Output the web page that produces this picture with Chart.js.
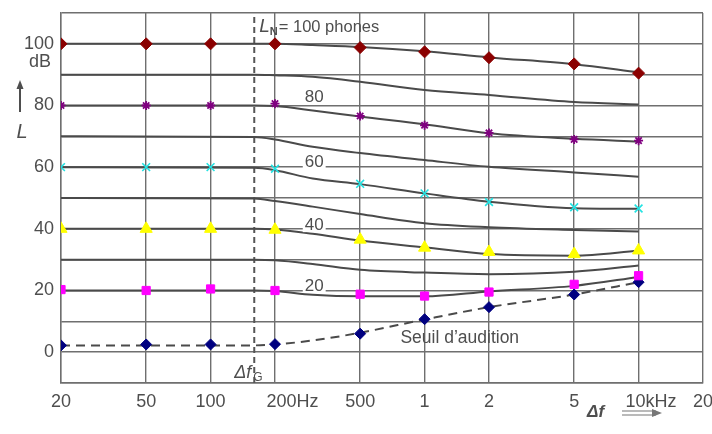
<!DOCTYPE html>
<html>
<head>
<meta charset="utf-8">
<script src="https://cdn.jsdelivr.net/npm/chart.js@4.4.0/dist/chart.umd.min.js"></script>
<style>
html,body{margin:0;padding:0;background:#ffffff;}
#wrap{width:712px;height:434px;}
</style>
</head>
<body>
<div id="wrap"><canvas id="c" width="712" height="434"></canvas></div>
<script>
// ---- tick labels ----
const xTickValues = [20, 50, 100, 200, 500, 1000, 2000, 5000, 10000, 20000];
const xTickLabels = ['20', '50', '100', '200Hz', '500', '1', '2', '5', '10kHz', '20'];
const yLabelValues = [0, 20, 40, 60, 80, 100];

// ---- marker series (overlaid points) ----
const markerFreqs = [20, 50, 100, 200, 500, 1000, 2000, 5000, 10000];
const marker100 = [100, 100, 100, 100, 98.8, 97.4, 95.5, 93.5, 90.5];
const marker80 = [80, 80, 80, 80.6, 76.6, 73.6, 71.1, 69.0, 68.6];
const marker60 = [60, 60, 60, 59.5, 54.6, 51.5, 48.7, 47.0, 46.6];
const marker40 = [40, 40, 40, 39.7, 36.5, 33.9, 32.5, 31.8, 33.0];
const marker20 = [20.3, 20, 20.5, 20, 18.8, 18.2, 19.5, 22.0, 24.8];
const markerThreshold = [2.2, 2.5, 2.5, 2.6, 6.0, 10.7, 14.6, 18.7, 22.7];

// ---- equal-loudness curves (grey lines) ----
const curveFreqs = [20, 160, 200, 300, 500, 1000, 2000, 5000, 10000];
const curve100 = [100, 100, 100, 99.6, 99.0, 97.6, 95.6, 93.4, 90.7];
const curve90 = [90, 90, 89.8, 89.3, 87.7, 85.0, 83.4, 81.1, 80.3];
const curve80 = [80, 80, 79.8, 78.4, 76.4, 73.9, 71.0, 69.2, 68.3];
const curve70 = [70, 69.8, 69.0, 66.6, 64.6, 62.3, 60.1, 58.3, 56.9];
const curve60 = [60, 59.8, 59.0, 56.3, 54.5, 51.5, 48.8, 46.7, 46.5];
const curve50 = [50, 49.8, 49.0, 47.2, 44.8, 41.8, 40.5, 39.6, 39.1];
const curve40 = [40, 40, 39.8, 38.4, 36.2, 34.0, 31.8, 31.3, 32.9];
const curve30 = [30, 30, 29.8, 28.6, 26.7, 25.8, 25.3, 26.1, 28.1];
const curve20 = [20, 20, 19.8, 18.6, 18.1, 18.1, 19.7, 21.5, 24.4];
const curveThreshold = [2.2, 2.2, 2.5, 3.8, 6.3, 10.6, 14.6, 18.7, 22.7];

// critical bandwidth marker
const criticalBand = 160;

// curve label annotations
const curveLabelTexts = ['80', '60', '40', '20'];
const curveLabelFreq = 305;
const curveLabelDb = [82.5, 61.5, 41.2, 21.5];

const GRID = '#6f6f6f';
const CURVE = '#4a4a4a';
const TEXT = '#4e4e4e';
const FONT = "'Liberation Sans', Arial, sans-serif";

function pts(xs, ys) { return xs.map((x, i) => ({ x: x, y: ys[i] })); }

function markerSet(label, data, style, radius, color, bw) {
  return {
    label: label, data: pts(markerFreqs, data), showLine: false, order: 0,
    pointStyle: style, pointRadius: radius, pointHoverRadius: radius,
    pointBackgroundColor: color, pointBorderColor: color, pointBorderWidth: bw
  };
}
function curveSet(label, data, dash) {
  return {
    label: label, data: pts(curveFreqs, data), order: 2,
    borderColor: CURVE, borderWidth: 2, pointRadius: 0, pointHoverRadius: 0,
    cubicInterpolationMode: 'monotone', borderDash: dash || [], fill: false
  };
}

const datasets = [
  markerSet('100 phon', marker100, 'rectRot', 6, '#8b0000', 1),
  markerSet('80 phon', marker80, 'star', 4.5, '#800080', 1.8),
  markerSet('60 phon', marker60, 'crossRot', 5.5, '#22e3e3', 1.6),
  markerSet('40 phon', marker40, 'triangle', 7, '#ffff00', 1),
  markerSet('20 phon', marker20, 'rect', 5.8, '#ff00ff', 1),
  markerSet('Seuil', markerThreshold, 'rectRot', 5.5, '#000080', 1),
  curveSet('L100', curve100), curveSet('L90', curve90), curveSet('L80', curve80),
  curveSet('L70', curve70), curveSet('L60', curve60), curveSet('L50', curve50),
  curveSet('L40', curve40), curveSet('L30', curve30), curveSet('L20', curve20),
  curveSet('Seuil d\'audition', curveThreshold, [9, 6]),
  {
    label: 'Δf_G', data: [{ x: criticalBand, y: -10 }, { x: criticalBand, y: 110 }], order: 3,
    borderColor: '#555555', borderWidth: 2, borderDash: [6, 4], pointRadius: 0, pointHoverRadius: 0
  }
];

const annot = {
  id: 'annot',
  afterDraw(chart) {
    const { ctx, scales: { x, y } } = chart;
    ctx.save();
    ctx.fillStyle = TEXT;
    ctx.strokeStyle = TEXT;
    ctx.textBaseline = 'middle';

    // curve labels
    ctx.font = '17px ' + FONT;
    ctx.textAlign = 'center';
    curveLabelTexts.forEach((t, i) => {
      const px = x.getPixelForValue(curveLabelFreq);
      const py = y.getPixelForValue(curveLabelDb[i]);
      const w = ctx.measureText(t).width;
      ctx.fillStyle = '#ffffff';
      ctx.fillRect(px - w / 2 - 2, py - 7, w + 4, 14);
      ctx.fillStyle = TEXT;
      ctx.fillText(t, px, py);
    });

    // L_N = 100 phones
    let lx = x.getPixelForValue(criticalBand) + 5;
    const ly = y.getPixelForValue(105.4);
    ctx.textAlign = 'left';
    ctx.font = 'italic 19px ' + FONT;
    ctx.fillText('L', lx, ly);
    lx += ctx.measureText('L').width;
    ctx.font = 'bold 11px ' + FONT;
    ctx.fillText('N', lx, ly + 5);
    lx += ctx.measureText('N').width + 1;
    ctx.font = '16.5px ' + FONT;
    ctx.fillText('= 100 phones', lx, ly);

    // Seuil d'audition
    ctx.font = '17.5px ' + FONT;
    ctx.textAlign = 'center';
    ctx.fillText('Seuil d\u2019audition', x.getPixelForValue(1460), y.getPixelForValue(4.4));

    // Δf_G
    ctx.textAlign = 'left';
    let gx = x.getPixelForValue(criticalBand) - 20;
    const gy = y.getPixelForValue(-6.6);
    ctx.font = 'italic 18px ' + FONT;
    ctx.fillText('\u0394f', gx, gy);
    gx += ctx.measureText('\u0394f').width + 2;
    ctx.font = '12px ' + FONT;
    ctx.fillText('G', gx, gy + 5);

    // dB unit and L axis title
    ctx.font = '18px ' + FONT;
    ctx.textAlign = 'center';
    ctx.fillText('dB', 40, 62);
    ctx.font = 'italic 20px ' + FONT;
    ctx.fillText('L', 22, 132);
    // upward arrow
    ctx.lineWidth = 2;
    ctx.beginPath(); ctx.moveTo(20, 112); ctx.lineTo(20, 87); ctx.stroke();
    ctx.beginPath(); ctx.moveTo(20, 80); ctx.lineTo(16.5, 89); ctx.lineTo(23.5, 89); ctx.closePath(); ctx.fill();

    // Δf arrow under x axis
    ctx.font = 'italic bold 17px ' + FONT;
    ctx.textAlign = 'left';
    ctx.fillText('\u0394f', 587, 412);
    ctx.lineWidth = 1.2;
    ctx.strokeStyle = '#777777';
    ctx.beginPath();
    ctx.moveTo(622, 411); ctx.lineTo(656, 411);
    ctx.moveTo(622, 415); ctx.lineTo(656, 415);
    ctx.stroke();
    ctx.fillStyle = '#777777';
    ctx.beginPath(); ctx.moveTo(662, 413); ctx.lineTo(652, 409); ctx.lineTo(652, 417); ctx.closePath(); ctx.fill();
    ctx.restore();
  }
};

new Chart(document.getElementById('c'), {
  type: 'line',
  data: { datasets: datasets },
  options: {
    responsive: false,
    animation: false,
    devicePixelRatio: 1,
    layout: { padding: { top: 13, right: 9, left: 0, bottom: 0 } },
    plugins: { legend: { display: false }, tooltip: { enabled: false } },
    scales: {
      x: {
        type: 'logarithmic', min: 20, max: 20000,
        afterBuildTicks: (s) => { s.ticks = xTickValues.map(v => ({ value: v })); },
        afterFit: (s) => { s.height = 51; s.paddingLeft = 0; s.paddingRight = 0; s.paddingTop = 0; s.paddingBottom = 0; },
        grid: { color: GRID, lineWidth: 1.4, drawTicks: false },
        border: { display: true, color: GRID, width: 1.4 },
        ticks: {
          autoSkip: false, maxRotation: 0, padding: 8, color: TEXT,
          font: { family: FONT, size: 18 },
          callback: (v, i) => {
            const t = xTickLabels[i];
            if (t === '200Hz') return '       ' + t;
            if (t === '10kHz') return '     ' + t;
            return t;
          }
        }
      },
      y: {
        type: 'linear', min: -10, max: 110,
        afterFit: (s) => { s.width = 61; s.paddingTop = 0; s.paddingBottom = 0; s.paddingLeft = 0; s.paddingRight = 0; },
        grid: { color: GRID, lineWidth: 1.4, drawTicks: false },
        border: { display: true, color: GRID, width: 1.4 },
        ticks: {
          stepSize: 10, padding: 7, color: TEXT,
          font: { family: FONT, size: 18 },
          callback: (v) => yLabelValues.includes(v) ? String(v) : ''
        }
      }
    }
  },
  plugins: [annot]
});
</script>
</body>
</html>
